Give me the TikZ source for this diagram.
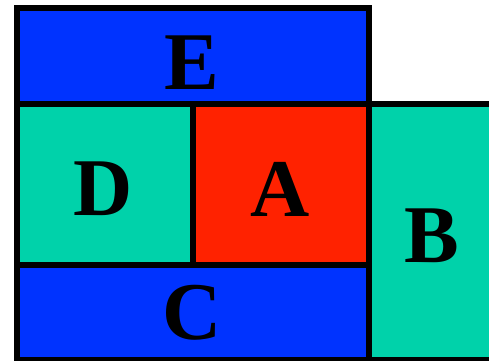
\documentclass[tikz,border=0pt]{standalone}
\usepackage{fontspec}
\setmainfont{Liberation Serif}
\definecolor{cblue}{RGB}{0,51,255}
\definecolor{cteal}{RGB}{0,210,170}
\definecolor{cred}{RGB}{255,34,0}
\begin{document}
\begin{tikzpicture}[x=1pt,y=1pt,
  cell/.style={draw=black,line width=6pt},
  lab/.style={anchor=base,inner sep=0pt,font=\fontsize{82}{82}\selectfont\bfseries}]
\useasboundingbox (0,0) rectangle (489,360);
\clip (0,0) rectangle (489,360);
\filldraw[cell,fill=cteal] (369,256) rectangle (496,0);
\filldraw[cell,fill=cblue] (17,352) rectangle (369,256);
\filldraw[cell,fill=cteal] (17,256) rectangle (193,95.5);
\filldraw[cell,fill=cred] (193,256) rectangle (369,95.5);
\filldraw[cell,fill=cblue] (17,95.5) rectangle (369,0);
\node[lab] (E) at (192,271) {E};
\node[lab] (D) at (103,145) {D};
\node[lab] (A) at (280.5,144) {A};
\node[lab] (B) at (432,98) {B};
\node[lab] (C) at (192,21) {C};
\end{tikzpicture}
\end{document}
